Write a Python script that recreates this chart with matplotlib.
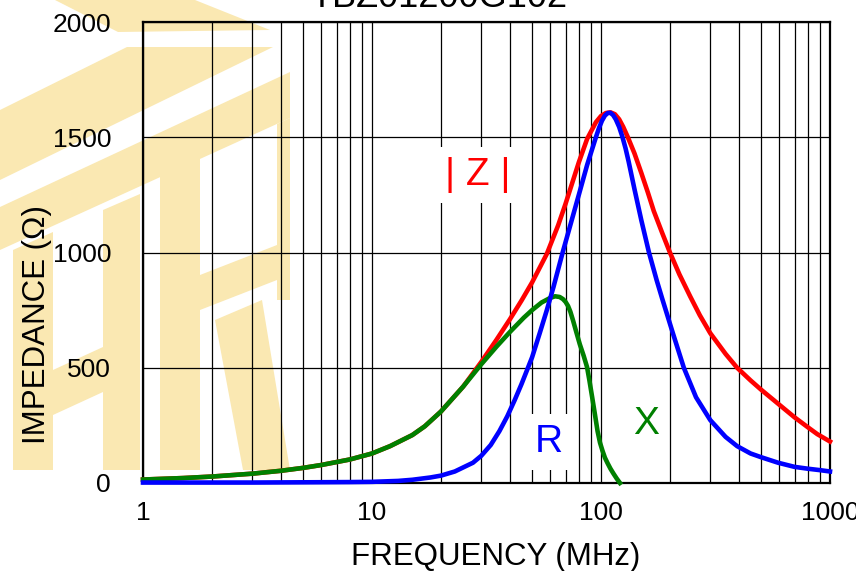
import matplotlib
matplotlib.use("Agg")
import matplotlib.pyplot as plt
from matplotlib.patches import Polygon

plt.rcParams['font.family'] = ['Liberation Sans', 'DejaVu Sans']

# impedance curves (MHz, ohm)
freq_z = [1, 1.5, 2, 3, 4, 5, 6, 8, 10, 12, 15, 17, 20, 25, 30, 35, 40, 45, 50, 58, 65, 70, 75, 80, 87,
          95, 100, 105, 110, 115, 120, 125, 131, 140, 150, 160, 170, 185, 200, 220, 245, 270, 300, 350,
          393, 450, 500, 600, 700, 800, 880, 1000]
z_vals = [15, 21.5, 28, 40.5, 53, 65.5, 78, 102, 128, 160, 208, 246, 310, 418, 525, 622, 710, 792, 870,
          994, 1118, 1211, 1304, 1391, 1493, 1565, 1592, 1605, 1608, 1600, 1578, 1545, 1500, 1430, 1345,
          1262, 1180, 1085, 1000, 905, 810, 728, 650, 560, 500, 445, 405, 340, 285, 242, 212, 180]

freq_r = [1, 3, 5, 8, 10, 13, 15, 18, 20, 23, 27.6, 30, 33, 36, 39, 42, 45, 50, 54, 58, 62, 68, 74, 80,
          87, 95, 98, 101, 104, 107, 110, 113, 116, 120, 124, 128, 132, 140, 150, 162, 175, 185, 206,
          230, 260, 300, 350, 393, 450, 500, 593, 700, 800, 900, 1000]
r_vals = [2, 2, 3, 4, 5, 9, 14, 24, 32, 50, 88, 118, 165, 225, 290, 360, 430, 545, 650, 750, 850, 1000,
          1130, 1250, 1380, 1500, 1540, 1572, 1594, 1605, 1606, 1596, 1578, 1545, 1502, 1452, 1395,
          1275, 1140, 1000, 880, 800, 650, 500, 372, 273, 200, 160, 128, 112, 88, 70, 62, 56, 50]

freq_x = [1, 1.5, 2, 3, 4, 5, 6, 8, 10, 12, 15, 17, 20, 25, 30, 35, 40, 46, 50, 55, 60, 63, 66, 68.2, 70,
          71.8, 73.5, 75.5, 78, 80.8, 84, 86.9, 89, 91.4, 94, 96.6, 99, 101.5, 104, 106.7, 110, 113.5,
          117, 121]
x_vals = [15, 21.5, 28, 40.5, 53, 65.5, 78, 102, 128, 160, 208, 246, 310, 418, 515, 592, 655, 717, 750,
          783, 803, 810, 807, 798, 786, 768, 743, 705, 655, 602, 552, 503, 445, 375, 300, 225, 175, 140,
          110, 87, 62, 40, 20, 0]

xticks = [1, 10, 100, 1000]
xtick_labels = ['1', '10', '100', '1000']
yticks = [0, 500, 1000, 1500, 2000]

W, H = 856, 571
fig = plt.figure(figsize=(W / 100, H / 100), dpi=100)
ax = fig.add_axes([143 / W, 1 - 483 / H, 687 / W, 461 / H])
ax.patch.set_alpha(0)

# faint logo watermark behind the chart (pixel outlines, y down)
logo = [
    [(55, 0), (195, 0), (270, 30), (118, 32)],
    [(0, 110), (127, 47), (273, 47), (0, 180)],
    [(0, 207), (290, 72), (290, 118), (0, 250)],
    [(13, 250), (53, 232), (53, 470), (13, 470)],
    [(103, 210), (140, 194), (140, 470), (103, 470)],
    [(53, 370), (103, 347), (103, 392), (53, 415)],
    [(160, 176), (200, 158), (200, 470), (160, 470)],
    [(277, 124), (290, 118), (290, 300), (277, 300)],
    [(200, 275), (277, 245), (277, 280), (200, 310)],
    [(215, 320), (262, 300), (290, 470), (243, 470)],
]
for pts in logo:
    fig.patches.append(Polygon([(px / W, 1 - py / H) for px, py in pts], closed=True,
                               transform=fig.transFigure, facecolor='#fae8b2',
                               edgecolor='none', zorder=-5))

ax.plot(freq_z, z_vals, color='#ff0000', lw=3.3, clip_on=False, zorder=4)
ax.plot(freq_x, x_vals, color='#008000', lw=3.3, clip_on=False, zorder=5)
ax.plot(freq_r, r_vals, color='#0000ff', lw=3.3, clip_on=False, zorder=6)

ax.set_xscale('log')
ax.set_xlim(1, 1000)
ax.set_ylim(0, 2000)
ax.set_xticks(xticks)
ax.set_xticklabels(xtick_labels)
ax.set_yticks(yticks)
ax.tick_params(which='both', length=0, labelsize=19)
ax.tick_params(axis='x', pad=13)
ax.tick_params(axis='y', pad=23)
ax.grid(True, which='both', color='black', lw=0.9)
ax.set_axisbelow(True)
for sp in ax.spines.values():
    sp.set_linewidth(1.6)
    sp.set_color('black')

box = dict(facecolor='white', edgecolor='none', boxstyle='square,pad=0.25')
ax.text(29.0, 1293, '| Z |', color='#ff0000', fontsize=28, ha='center', va='baseline', bbox=box, zorder=3)
ax.text(59.3, 134, 'R', color='#0000ff', fontsize=28, ha='center', va='baseline', bbox=box, zorder=3)
ax.text(157, 213, 'X', color='#008000', fontsize=28, ha='center', va='baseline', bbox=box, zorder=3)

fig.text(439 / W, 1 - 7 / H, 'TBZ01200G102', fontsize=26, ha='center', va='baseline')
fig.text(496 / W, 1 - 565 / H, 'FREQUENCY (MHz)', fontsize=22.5, ha='center', va='baseline')
fig.text(37 / W, 1 - 324 / H, 'IMPEDANCE (Ω)', fontsize=22.5, rotation=90, ha='center', va='center')

fig.savefig('out.png', dpi=100)
